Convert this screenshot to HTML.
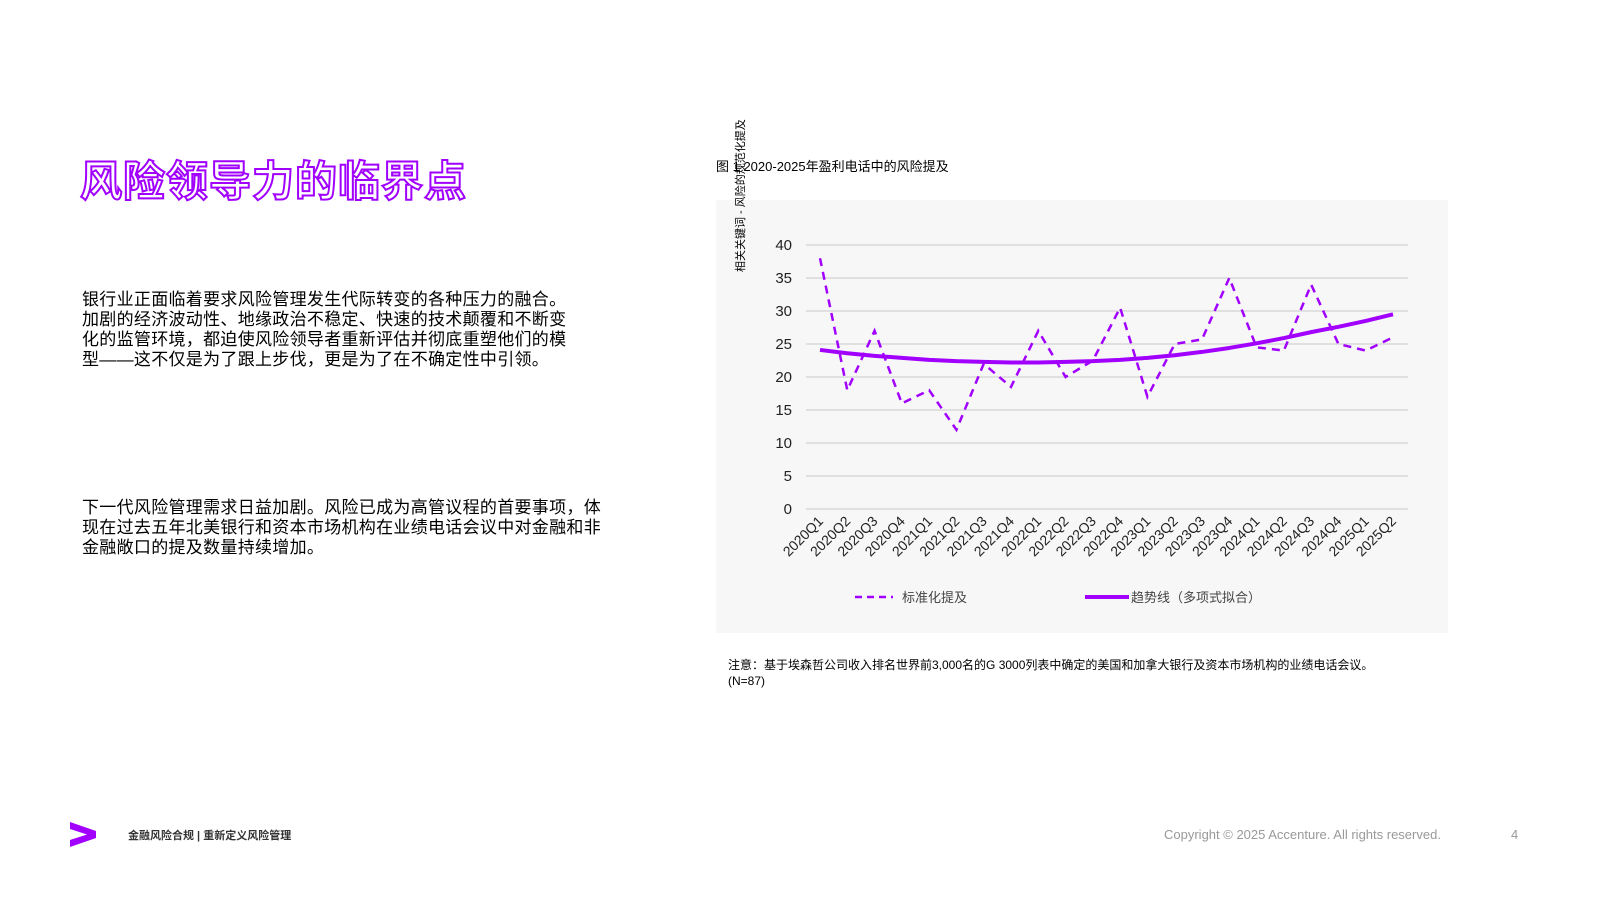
<!DOCTYPE html>
<html><head><meta charset="utf-8">
<style>
body{margin:0;width:1600px;height:900px;background:#fff;position:relative;overflow:hidden;font-family:"Liberation Sans","Noto Sans CJK SC",sans-serif;color:#000}
.t{position:absolute;white-space:nowrap}
#title{left:80px;top:148px;font-size:42px;font-weight:bold;color:#fff;-webkit-text-stroke:2px #a100ff;letter-spacing:1px}
.para{position:absolute;left:82px;font-size:17px;letter-spacing:0.3px;line-height:20px;color:#000}
</style></head><body>
<div id="title" class="t">风险领导力的临界点</div>
<div class="para" style="top:290px;width:500px">银行业正面临着要求风险管理发生代际转变的各种压力的融合。加剧的经济波动性、地缘政治不稳定、快速的技术颠覆和不断变化的监管环境，都迫使风险领导者重新评估并彻底重塑他们的模型——这不仅是为了跟上步伐，更是为了在不确定性中引领。</div>
<div class="para" style="top:498px;width:520px">下一代风险管理需求日益加剧。风险已成为高管议程的首要事项，体现在过去五年北美银行和资本市场机构在业绩电话会议中对金融和非金融敞口的提及数量持续增加。</div>
<div class="t" style="left:716px;top:156px;font-size:13px">图 1  2020-2025年盈利电话中的风险提及</div>
<svg id="chart" style="position:absolute;left:0;top:0" width="1600" height="900"></svg>
<div class="t" style="left:728px;top:657px;font-size:12px;line-height:16px">注意：基于埃森哲公司收入排名世界前3,000名的G 3000列表中确定的美国和加拿大银行及资本市场机构的业绩电话会议。<br>(N=87)</div>
<svg style="position:absolute;left:70px;top:822px" width="28" height="26"><polygon points="0,0 26,9 26,16 0,25 0,18 17,12.5 0,7" fill="#a100ff"/></svg>
<div class="t" style="left:128px;top:827px;font-size:11px;font-weight:bold;color:#333">金融风险合规 | 重新定义风险管理</div>
<div class="t" style="left:1164px;top:827px;font-size:13px;color:#999">Copyright © 2025 Accenture. All rights reserved.</div>
<div class="t" style="left:1511px;top:827px;font-size:13px;color:#999">4</div>
<script>
const categories=["2020Q1","2020Q2","2020Q3","2020Q4","2021Q1","2021Q2","2021Q3","2021Q4","2022Q1","2022Q2","2022Q3","2022Q4","2023Q1","2023Q2","2023Q3","2023Q4","2024Q1","2024Q2","2024Q3","2024Q4","2025Q1","2025Q2"];
const mentions=[38,18,27,16,18,12,22,18.5,27,20,22.5,30.5,17,25,25.7,35,24.5,24,34,25,24,26];
const trend=[24.1,23.6,23.2,22.9,22.6,22.4,22.3,22.2,22.2,22.3,22.4,22.6,22.9,23.3,23.8,24.4,25.1,25.9,26.8,27.6,28.5,29.5];
const yTicks=[0,5,10,15,20,25,30,35,40];
const NS="http://www.w3.org/2000/svg";
const svg=document.getElementById('chart');
function mk(tag,attrs){const e=document.createElementNS(NS,tag);for(const k in attrs)e.setAttribute(k,attrs[k]);svg.appendChild(e);return e;}
const X0=820,X1=1393,Y0=509,Y40=245;
const x=i=>X0+(X1-X0)*i/(categories.length-1);
const y=v=>Y0+(Y40-Y0)*v/40;
const bg=mk('rect',{x:716,y:200,width:732,height:433,fill:'#f7f7f7'});


yTicks.forEach(t=>{
 const g=mk('line',{x1:806,x2:1408,y1:y(t),y2:y(t),stroke:'#d9d9d9','stroke-width':1.5});
 
 
 const l=mk('text',{x:792,y:y(t)+5,'text-anchor':'end','font-size':15,fill:'#222','font-family':'Liberation Sans'});
 l.textContent=t;
 
 
});
categories.forEach((c,i)=>{
 const l=mk('text',{transform:`translate(${x(i)+4},${522}) rotate(-45)`,'text-anchor':'end','font-size':14,fill:'#222','font-family':'Liberation Sans'});
 l.textContent=c;
 
 
});
const d1=mentions.map((v,i)=>(i?'L':'M')+x(i)+','+y(v)).join(' ');
const p1=mk('path',{d:d1,fill:'none',stroke:'#a100ff','stroke-width':2.5,'stroke-dasharray':'8,6'});


const d2=trend.map((v,i)=>(i?'L':'M')+x(i)+','+y(v)).join(' ');
const p2=mk('path',{d:d2,fill:'none',stroke:'#a100ff','stroke-width':4,'stroke-linejoin':'round'});


const yt=mk('text',{transform:'translate(744,272) rotate(-90)','font-size':11,fill:'#000','font-family':'Liberation Sans, Noto Sans CJK SC'});
yt.textContent='相关关键词 - 风险的规范化提及';


const lg1=mk('line',{x1:855,x2:893,y1:597,y2:597,stroke:'#a100ff','stroke-width':2.5,'stroke-dasharray':'7,5'});


const lt1=mk('text',{x:902,y:602,'font-size':13,fill:'#444','font-family':'Liberation Sans, Noto Sans CJK SC'});
lt1.textContent='标准化提及';


const lg2=mk('line',{x1:1085,x2:1129,y1:597,y2:597,stroke:'#a100ff','stroke-width':4});


const lt2=mk('text',{x:1131,y:602,'font-size':13,fill:'#444','font-family':'Liberation Sans, Noto Sans CJK SC'});
lt2.textContent='趋势线（多项式拟合）';


</script>
</body></html>
